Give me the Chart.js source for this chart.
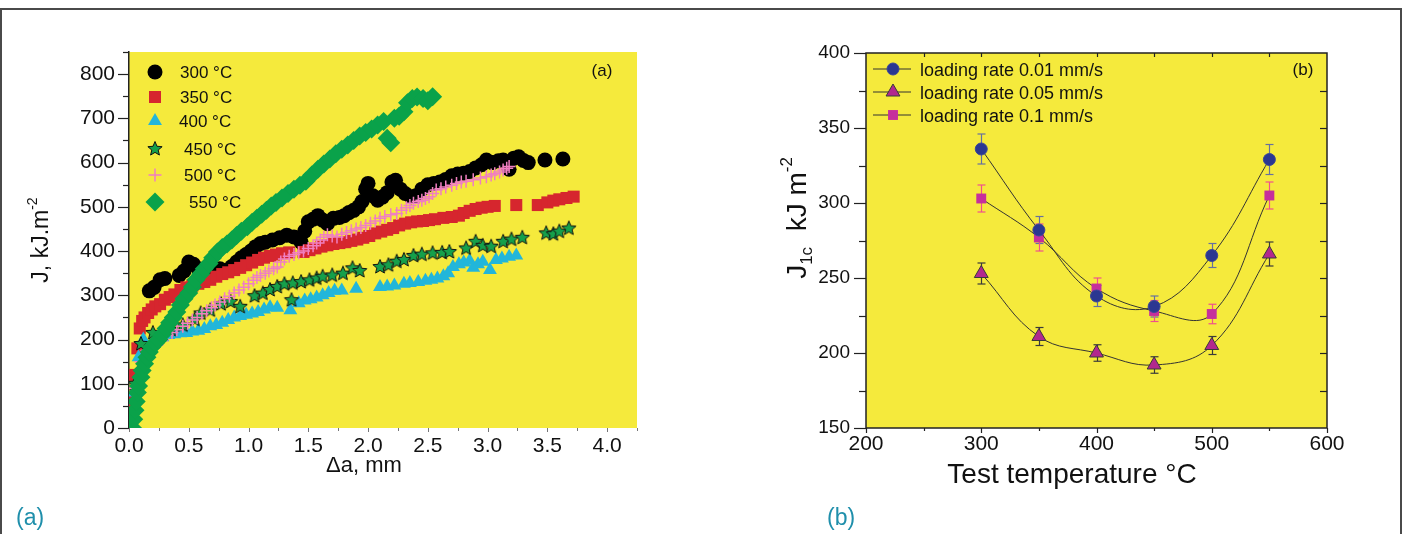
<!DOCTYPE html>
<html>
<head>
<meta charset="utf-8">
<script src="https://cdn.jsdelivr.net/npm/chart.js@4.4.1/dist/chart.umd.min.js"></script>
<style>
  body{margin:0;background:#fff;width:1403px;height:534px;overflow:hidden;position:relative;font-family:'Liberation Sans',Arial,sans-serif}
  .frame{position:absolute;left:0;top:8px;width:1398px;height:600px;border:2px solid #4a4a4a}
  canvas{position:absolute;top:0}
  #left{left:0}
  #right{left:700px}
  .cap{position:absolute;top:504px;color:#1f8fab;font-family:'Liberation Sans Narrow','Liberation Sans',Arial,sans-serif;font-size:23px}
</style>
</head>
<body>
<div class="frame"></div>
<canvas id="left" width="700" height="534"></canvas>
<canvas id="right" width="703" height="534"></canvas>
<div class="cap" style="left:16px">(a)</div>
<div class="cap" style="left:827px">(b)</div>
<script>
// (a) J vs crack extension, pairs of [da mm, J kJ/m2]
const j300=[[0.17,310],[0.21,318],[0.26,335],[0.3,338],[0.42,345],[0.46,355],[0.5,375],[0.54,370],[0.58,360],[0.64,352],[0.7,358],[0.76,360],[0.82,357],[0.86,365],[0.9,375],[0.94,385],[0.98,392],[1.02,400],[1.06,410],[1.1,417],[1.14,420],[1.2,425],[1.26,430],[1.32,436],[1.38,432],[1.44,420],[1.47,445],[1.5,466],[1.54,472],[1.58,480],[1.62,470],[1.66,462],[1.71,474],[1.76,476],[1.8,480],[1.84,487],[1.88,492],[1.92,500],[1.95,512],[1.98,540],[2.0,553],[2.04,525],[2.08,515],[2.12,522],[2.16,532],[2.2,556],[2.23,560],[2.27,540],[2.31,530],[2.36,523],[2.4,525],[2.45,540],[2.5,550],[2.55,553],[2.6,556],[2.65,562],[2.7,570],[2.75,574],[2.8,576],[2.85,580],[2.9,588],[2.95,595],[2.99,606],[3.04,600],[3.09,604],[3.13,606],[3.18,585],[3.22,610],[3.26,613],[3.3,605],[3.34,600],[3.48,606],[3.63,608]];
const j350=[[0.03,60],[0.05,120],[0.07,180],[0.09,225],[0.11,242],[0.13,250],[0.16,260],[0.19,268],[0.22,275],[0.26,280],[0.3,290],[0.34,296],[0.38,302],[0.43,312],[0.48,318],[0.53,322],[0.58,326],[0.63,330],[0.68,335],[0.73,342],[0.78,348],[0.83,352],[0.88,357],[0.93,362],[0.98,368],[1.03,374],[1.08,380],[1.13,385],[1.18,389],[1.23,392],[1.28,395],[1.34,397],[1.46,398],[1.51,402],[1.56,406],[1.61,410],[1.66,413],[1.71,416],[1.76,418],[1.81,420],[1.86,423],[1.91,426],[1.96,430],[2.01,434],[2.06,440],[2.11,444],[2.16,448],[2.21,452],[2.26,458],[2.31,462],[2.36,465],[2.41,467],[2.46,468],[2.51,470],[2.56,472],[2.63,475],[2.7,477],[2.76,480],[2.8,486],[2.85,491],[2.9,495],[2.95,498],[3.0,500],[3.06,502],[3.24,504],[3.42,504],[3.5,510],[3.55,514],[3.6,517],[3.66,520],[3.72,523]];
const j400=[[0.04,80],[0.08,160],[0.12,200],[0.28,205],[0.33,210],[0.38,212],[0.43,214],[0.48,215],[0.53,218],[0.58,220],[0.63,224],[0.68,230],[0.73,233],[0.78,238],[0.83,244],[0.88,250],[0.93,253],[0.98,256],[1.03,259],[1.08,262],[1.13,268],[1.18,273],[1.24,272],[1.35,266],[1.42,282],[1.47,288],[1.52,291],[1.57,295],[1.62,300],[1.67,305],[1.72,310],[1.78,311],[1.9,315],[2.1,319],[2.16,320],[2.22,322],[2.3,326],[2.35,328],[2.42,330],[2.48,333],[2.53,335],[2.58,338],[2.63,343],[2.67,350],[2.71,364],[2.76,370],[2.8,374],[2.85,378],[2.88,362],[2.92,370],[2.96,376],[3.02,357],[3.07,380],[3.12,383],[3.18,387],[3.24,390]];
const j450=[[0.05,100],[0.1,190],[0.2,215],[0.35,222],[0.45,232],[0.55,245],[0.6,259],[0.68,266],[0.77,280],[0.85,285],[0.93,274],[1.05,298],[1.12,304],[1.18,312],[1.24,319],[1.3,325],[1.36,289],[1.37,327],[1.44,330],[1.51,334],[1.57,338],[1.62,342],[1.7,345],[1.79,349],[1.87,361],[1.93,355],[2.1,364],[2.17,368],[2.24,376],[2.3,380],[2.38,389],[2.45,392],[2.54,395],[2.62,396],[2.68,398],[2.82,406],[2.9,421],[2.96,412],[3.03,410],[3.13,421],[3.2,426],[3.29,430],[3.49,440],[3.55,438],[3.6,444],[3.68,451]];
const j500=[[0.05,90],[0.1,150],[0.15,175],[0.2,185],[0.24,192],[0.28,200],[0.32,210],[0.36,216],[0.4,222],[0.45,230],[0.49,237],[0.53,244],[0.57,250],[0.61,258],[0.65,265],[0.69,272],[0.72,278],[0.76,285],[0.8,292],[0.84,298],[0.88,305],[0.92,312],[0.96,318],[1.0,326],[1.04,334],[1.07,340],[1.1,345],[1.14,350],[1.17,355],[1.21,360],[1.24,364],[1.27,375],[1.3,382],[1.34,388],[1.38,392],[1.42,396],[1.46,400],[1.5,406],[1.54,412],[1.57,418],[1.6,425],[1.63,431],[1.66,437],[1.7,434],[1.74,432],[1.78,438],[1.82,442],[1.86,446],[1.9,450],[1.94,453],[1.98,458],[2.02,463],[2.06,468],[2.1,474],[2.14,478],[2.19,482],[2.24,485],[2.28,492],[2.32,498],[2.35,503],[2.38,508],[2.42,512],[2.45,515],[2.48,519],[2.51,523],[2.54,530],[2.57,538],[2.61,541],[2.65,545],[2.7,549],[2.74,553],[2.78,556],[2.82,558],[2.88,561],[2.94,565],[2.99,568],[3.03,572],[3.06,575],[3.1,579],[3.13,583],[3.16,587],[3.18,591]];
const j550=[[0.03,0],[0.04,20],[0.05,40],[0.06,60],[0.07,80],[0.08,95],[0.1,115],[0.11,130],[0.13,145],[0.15,160],[0.17,172],[0.19,183],[0.22,192],[0.25,200],[0.28,212],[0.31,225],[0.34,238],[0.37,250],[0.4,262],[0.43,278],[0.46,292],[0.5,305],[0.53,319],[0.56,335],[0.6,348],[0.63,360],[0.67,372],[0.7,385],[0.74,398],[0.78,408],[0.82,416],[0.86,425],[0.9,435],[0.94,445],[0.99,455],[1.03,465],[1.07,474],[1.11,483],[1.15,492],[1.19,502],[1.23,510],[1.28,520],[1.33,530],[1.38,540],[1.43,549],[1.48,558],[1.53,572],[1.58,585],[1.63,597],[1.68,608],[1.73,620],[1.78,630],[1.83,640],[1.88,650],[1.93,660],[1.98,668],[2.03,676],[2.08,685],[2.13,693],[2.16,655],[2.19,645],[2.22,700],[2.26,705],[2.3,715],[2.33,735],[2.37,745],[2.41,748],[2.46,745],[2.5,740],[2.54,749]];
const tempLabels=['300 °C','350 °C','400 °C','450 °C','500 °C','550 °C'];

// (b) J1c vs test temperature
const temps=[300,350,400,450,500,550];
const rate001=[336,282,238,231,265,329];
const rate001Err=[10,9,7,7,8,10];
const rate005=[253,211,200,192,205,266];
const rate005Err=[7,6,5.5,5.5,6,8];
const rate01=[303,277,243,228,226,305];
const rate01Err=[9,9,7,7,6.5,9];
const rateLabels=['loading rate 0.01 mm/s','loading rate 0.05 mm/s','loading rate 0.1 mm/s'];

const yellow='#f5ea3c';
const font='Liberation Sans, Arial, sans-serif';

function starCanvas(r){
  const s=Math.ceil(r*2+3);
  const c=document.createElement('canvas');
  c.width=c.height=s;
  const g=c.getContext('2d');
  g.beginPath();
  for(let i=0;i<10;i++){
    const rr=i%2?r*0.45:r;
    const a=-Math.PI/2+i*Math.PI/5;
    g.lineTo(s/2+rr*Math.cos(a),s/2+rr*Math.sin(a));
  }
  g.closePath();
  g.fillStyle='#15a04b';g.fill();
  g.strokeStyle='#111';g.lineWidth=1;g.stroke();
  return c;
}
const star=starCanvas(7.5);

// own marker drawer for the legends
function marker(ctx,style,x,y,r,fill,stroke,bw){
  ctx.save();
  ctx.fillStyle=fill;ctx.strokeStyle=stroke||fill;ctx.lineWidth=bw||1;
  ctx.beginPath();
  if(style==='circle'){ctx.arc(x,y,r,0,Math.PI*2)}
  else if(style==='rect'){const h=r*Math.SQRT1_2;ctx.rect(x-h,y-h,2*h,2*h)}
  else if(style==='rectRot'){ctx.moveTo(x-r,y);ctx.lineTo(x,y-r);ctx.lineTo(x+r,y);ctx.lineTo(x,y+r);ctx.closePath()}
  else if(style==='triangle'){
    for(let i=0;i<3;i++){const a=i*2*Math.PI/3;ctx.lineTo(x+Math.sin(a)*r,y-Math.cos(a)*r)}
    ctx.closePath();
  }
  else if(style==='cross'){ctx.moveTo(x-r,y);ctx.lineTo(x+r,y);ctx.moveTo(x,y-r);ctx.lineTo(x,y+r);ctx.stroke();ctx.restore();return}
  else if(style==='star'){ctx.drawImage(star,x-star.width/2,y-star.height/2);ctx.restore();return}
  ctx.fill();
  if(bw)ctx.stroke();
  ctx.restore();
}

function fillArea(chart){
  const {ctx,chartArea:a}=chart;
  ctx.save();
  ctx.fillStyle=yellow;
  ctx.fillRect(a.left,a.top,a.right-a.left,a.bottom-a.top);
  ctx.restore();
}
function seg(ctx,x1,y1,x2,y2){ctx.beginPath();ctx.moveTo(x1,y1);ctx.lineTo(x2,y2);ctx.stroke()}

// text with sub/superscript parts: [text, size, dy]
function richText(ctx,parts,cx,baseY){
  let w=0;
  parts.forEach(p=>{ctx.font=p[1]+'px '+font;w+=ctx.measureText(p[0]).width});
  let x=cx-w/2;
  parts.forEach(p=>{ctx.font=p[1]+'px '+font;ctx.fillText(p[0],x,baseY+p[2]);x+=ctx.measureText(p[0]).width});
}

const leftSeries=[
  {data:j300,style:'circle',r:7.5,bg:'#000',bc:'#000',bw:0},
  {data:j350,style:'rect',r:8.5,bg:'#d6262e',bc:'#d6262e',bw:0},
  {data:j400,style:'triangle',r:8,bg:'#22b6da',bc:'#22b6da',bw:0},
  {data:j450,style:star,r:7.5,bg:'#15a04b',bc:'#111',bw:1},
  {data:j500,style:'cross',r:6.5,bg:'#f07fc1',bc:'#f07fc1',bw:1.5},
  {data:j550,style:'rectRot',r:9.5,bg:'#0aa24a',bc:'#0aa24a',bw:0}
];

const leftDecor={
  id:'leftDecor',
  beforeDraw(chart){fillArea(chart)},
  afterDraw(chart){
    const {ctx,chartArea:a,scales:{x,y}}=chart;
    ctx.save();
    ctx.strokeStyle='#222';ctx.lineWidth=1.2;
    for(let v=0;v<=850;v+=50){
      const py=Math.round(y.getPixelForValue(v))+0.5;
      seg(ctx,a.left-(v%100===0?11:6),py,a.left,py);
    }
    ctx.strokeStyle='#777';ctx.lineWidth=1;
    for(let k=0;k<=17;k++){
      const px=Math.round(x.getPixelForValue(k*0.25))+0.5;
      seg(ctx,px,a.bottom,px,a.bottom+(k%2===0?4:3));
    }
    // legend
    const rows=[72,97,121,149,175,202];
    const tx=[180,180,179,184,184,189];
    leftSeries.forEach((s,i)=>{
      const st=s.style===star?'star':s.style;
      marker(ctx,st,155,rows[i],s.r,s.bg,s.bc,s.bw);
      ctx.fillStyle='#111';ctx.font='17px '+font;
      ctx.fillText(tempLabels[i],tx[i],rows[i]+6);
    });
    ctx.fillStyle='#111';
    ctx.font='17px '+font;ctx.textAlign='center';
    ctx.fillText('(a)',602,76);
    // axis titles
    ctx.font='22px '+font;
    ctx.fillText('\u0394a, mm',364,472);
    ctx.textAlign='left';
    ctx.translate(48,240);ctx.rotate(-Math.PI/2);
    richText(ctx,[['J, kJ.m',23,0],['-2',14,-11]],0,0);
    ctx.restore();
  }
};

new Chart(document.getElementById('left'),{
  type:'scatter',
  data:{datasets:leftSeries.map((s,i)=>({
    label:tempLabels[i],
    data:s.data.map(p=>({x:p[0],y:p[1]})),
    pointStyle:s.style,pointRadius:s.r,
    backgroundColor:s.bg,borderColor:s.bc,borderWidth:s.bw,
    order:6-i
  }))},
  options:{
    responsive:false,animation:false,events:[],
    layout:{padding:{top:52,right:63,left:0,bottom:0}},
    plugins:{legend:{display:false},tooltip:{enabled:false}},
    scales:{
      x:{type:'linear',min:0,max:4.25,
        grid:{display:false,drawTicks:false},border:{display:false},
        ticks:{stepSize:0.5,includeBounds:false,padding:6,color:'#111',font:{family:font,size:21},
          callback:v=>v.toFixed(1)},
        afterFit:s=>{s.height=106}},
      y:{min:0,max:850,
        grid:{display:false,drawTicks:false},border:{display:true,color:'#222',width:1.5},
        ticks:{stepSize:100,includeBounds:false,padding:14,color:'#111',font:{family:font,size:21}},
        afterFit:s=>{s.width=129}}
    }
  },
  plugins:[leftDecor]
});

const rightSeries=[
  {vals:rate001,err:rate001Err,style:'circle',r:6,bg:'#2b3791',bc:'#3a4699',bw:1,ec:'#66709f'},
  {vals:rate005,err:rate005Err,style:'triangle',r:8,bg:'#b2288e',bc:'#3a3a3a',bw:1,ec:'#3a3a3a'},
  {vals:rate01,err:rate01Err,style:'rect',r:7,bg:'#c62f9c',bc:'#c62f9c',bw:0,ec:'#f0508c'}
];

const rightDecor={
  id:'rightDecor',
  beforeDraw(chart){fillArea(chart)},
  beforeDatasetsDraw(chart){
    const {ctx,scales:{x,y}}=chart;
    ctx.save();ctx.lineWidth=1.2;
    rightSeries.forEach(s=>{
      ctx.strokeStyle=s.ec;
      temps.forEach((t,i)=>{
        const px=Math.round(x.getPixelForValue(t))+0.5;
        const t1=y.getPixelForValue(s.vals[i]+s.err[i]);
        const b1=y.getPixelForValue(s.vals[i]-s.err[i]);
        seg(ctx,px,t1,px,b1);
        seg(ctx,px-4,t1,px+4,t1);
        seg(ctx,px-4,b1,px+4,b1);
      });
    });
    ctx.restore();
  },
  afterDraw(chart){
    const {ctx,chartArea:a,scales:{x,y}}=chart;
    ctx.save();
    ctx.strokeStyle='#222';ctx.lineWidth=1.2;
    for(let v=150;v<=400;v+=25){
      const py=Math.round(y.getPixelForValue(v))+0.5;
      seg(ctx,a.left-(v%50===0?12:7),py,a.left,py);
      if(v>150&&v<400)seg(ctx,a.right,py,a.right-7,py);
    }
    for(let v=200;v<=600;v+=50){
      const px=Math.round(x.getPixelForValue(v))+0.5;
      if(v>200&&v<600)seg(ctx,px,a.top,px,a.top+4);
      seg(ctx,px,a.bottom,px,a.bottom+(v%100===0?5:3));
    }
    ctx.lineWidth=1.5;
    ctx.strokeRect(a.left,a.top,a.right-a.left,a.bottom-a.top);
    // legend
    const rows=[69,92,115];
    rightSeries.forEach((s,i)=>{
      ctx.strokeStyle='#333';ctx.lineWidth=1;
      seg(ctx,173,rows[i],211,rows[i]);
      marker(ctx,s.style,193,rows[i],s.r,s.bg,s.bc,s.bw);
      ctx.fillStyle='#111';ctx.font='18px '+font;ctx.textAlign='left';
      ctx.fillText(rateLabels[i],220,rows[i]+7);
    });
    ctx.font='17px '+font;ctx.textAlign='center';ctx.fillStyle='#111';
    ctx.fillText('(b)',603,75);
    ctx.font='28px '+font;
    ctx.fillText('Test temperature °C',372,483);
    ctx.translate(106,218);ctx.rotate(-Math.PI/2);
    ctx.textAlign='left';
    richText(ctx,[['J',28,0],['1c',17,6],['  kJ m',28,0],['-2',17,-14]],0,0);
    ctx.restore();
  }
};

new Chart(document.getElementById('right'),{
  type:'line',
  data:{datasets:rightSeries.map((s,i)=>({
    label:rateLabels[i],
    data:temps.map((t,k)=>({x:t,y:s.vals[k]})),
    borderColor:'#333',borderWidth:1,tension:0.4,
    pointStyle:s.style,pointRadius:s.r,
    pointBackgroundColor:s.bg,pointBorderColor:s.bc,pointBorderWidth:s.bw
  }))},
  options:{
    responsive:false,animation:false,events:[],
    layout:{padding:{top:53,right:76,left:0,bottom:0}},
    plugins:{legend:{display:false},tooltip:{enabled:false}},
    scales:{
      x:{type:'linear',min:200,max:600,
        grid:{display:false,drawTicks:false},border:{display:false},
        ticks:{stepSize:100,padding:4,color:'#111',font:{family:font,size:21}},
        afterFit:s=>{s.height=106}},
      y:{min:150,max:400,
        grid:{display:false,drawTicks:false},border:{display:false},
        ticks:{stepSize:50,padding:16,color:'#111',font:{family:font,size:19}},
        afterFit:s=>{s.width=166}}
    }
  },
  plugins:[rightDecor]
});
</script>
</body>
</html>
